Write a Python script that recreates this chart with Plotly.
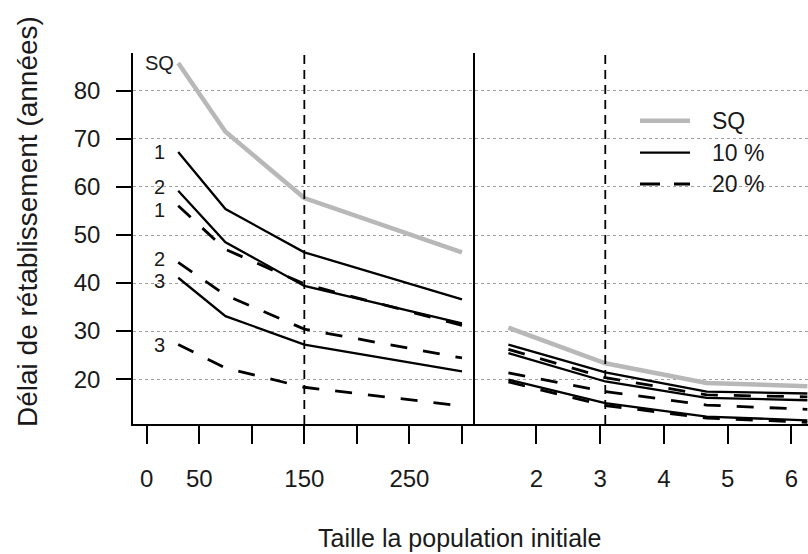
import plotly.graph_objects as go

# ---------------- data ----------------
X_LEFT = [30, 75, 150, 300]
X_RIGHT = [1.56, 3.08, 4.67, 6.25]

SQ_LEFT = [85.8, 71.5, 57.7, 46.4]
SQ_RIGHT = [30.7, 23.3, 19.2, 18.5]

P10_LEFT_1 = [67.3, 55.4, 46.4, 36.6]
P10_LEFT_2 = [59.2, 48.5, 39.4, 31.6]
P10_LEFT_3 = [41.1, 33.1, 27.2, 21.6]
P20_LEFT_1 = [56.1, 47.0, 39.8, 31.2]
P20_LEFT_2 = [44.3, 37.5, 30.4, 24.4]
P20_LEFT_3 = [27.2, 22.3, 18.3, 14.4]

P10_RIGHT_1 = [27.2, 21.4, 17.4, 17.0]
P10_RIGHT_2 = [25.4, 19.5, 16.1, 15.6]
P10_RIGHT_3 = [19.9, 15.0, 12.2, 11.4]
P20_RIGHT_1 = [26.2, 20.3, 16.7, 16.3]
P20_RIGHT_2 = [21.3, 17.4, 14.6, 13.7]
P20_RIGHT_3 = [19.4, 14.5, 11.9, 11.0]

REF_LEFT = 150
REF_RIGHT = 3.08

Y_TICKS = [20, 30, 40, 50, 60, 70, 80]
X_LEFT_TICKS = [0, 50, 100, 150, 200, 250, 300]
X_LEFT_TICKTEXT = ["0", "50", "", "150", "", "250", ""]
X_RIGHT_TICKS = [2, 3, 4, 5, 6]
X_RIGHT_TICKTEXT = ["2", "3", "4", "5", "6"]

LEGEND_LABELS = ["SQ", "10 %", "20 %"]
CURVE_LABELS = ["SQ", "1", "2", "3", "1", "2", "3"]
LABEL_X = 12

Y_TITLE = "Délai de rétablissement (années)"
X_TITLE = "Taille la population initiale"

# ---------------- styles ----------------
FONT = "Liberation Sans, Arial, sans-serif"
TXT = "#1a1a1a"
GRAY = "#b8b8b8"
SQ_STYLE = dict(color=GRAY, width=4.5)
P10_STYLE = dict(color="black", width=2.3)
P20_STYLE = dict(color="black", width=2.8, dash="17px,16px")

W, H = 808, 554
LEFT_PX, SPLIT_PX, TOP_PX, BOT_PX = 133, 474.6, 53, 424
xd_left = [LEFT_PX / W, SPLIT_PX / W]
xd_right = [SPLIT_PX / W, 1.0]
yd = [1 - BOT_PX / H, 1 - TOP_PX / H]

fig = go.Figure()

def add(x, y, style, xa, ya):
    fig.add_trace(go.Scatter(x=x, y=y, mode="lines", line=style,
                             xaxis=xa, yaxis=ya, showlegend=False,
                             hoverinfo="skip"))

# left panel
add(X_LEFT, SQ_LEFT, SQ_STYLE, "x", "y")
for s in (P20_LEFT_1, P20_LEFT_2, P20_LEFT_3):
    add(X_LEFT, s, P20_STYLE, "x", "y")
for s in (P10_LEFT_1, P10_LEFT_2, P10_LEFT_3):
    add(X_LEFT, s, P10_STYLE, "x", "y")

# right panel
add(X_RIGHT, SQ_RIGHT, SQ_STYLE, "x2", "y2")
for s in (P20_RIGHT_1, P20_RIGHT_2, P20_RIGHT_3):
    add(X_RIGHT, s, P20_STYLE, "x2", "y2")
for s in (P10_RIGHT_1, P10_RIGHT_2, P10_RIGHT_3):
    add(X_RIGHT, s, P10_STYLE, "x2", "y2")

tickfont = dict(family=FONT, size=24, color=TXT)
common_x = dict(ticks="outside", ticklen=18, tickwidth=1.5, tickcolor="black",
                showline=True, linecolor="black", linewidth=1.6,
                showgrid=False, zeroline=False, tickfont=tickfont,
                ticklabelstandoff=14, fixedrange=True)
grid = dict(showgrid=True, gridcolor="#a0a0a0", gridwidth=1, griddash="3px,3px",
            zeroline=False, fixedrange=True)

fig.update_layout(
    width=W, height=H,
    margin=dict(l=0, r=0, t=0, b=0),
    paper_bgcolor="white", plot_bgcolor="white",
    showlegend=False,
    xaxis=dict(domain=xd_left, range=[-13, 312], tickvals=X_LEFT_TICKS,
               ticktext=X_LEFT_TICKTEXT, anchor="y", **common_x),
    xaxis2=dict(domain=xd_right, range=[1.03, 6.26], tickvals=X_RIGHT_TICKS,
                ticktext=X_RIGHT_TICKTEXT, anchor="y2", **common_x),
    yaxis=dict(domain=yd, range=[10.65, 87.9], tickvals=Y_TICKS, anchor="x",
               ticks="outside", ticklen=15, tickwidth=1.5, tickcolor="black",
               showline=True, linecolor="black", linewidth=1.6,
               tickfont=tickfont, ticklabelstandoff=11, **grid),
    yaxis2=dict(domain=yd, matches="y", anchor="x2", showticklabels=False,
                ticks="", showline=True, linecolor="black", linewidth=1.6,
                **grid),
)

# reference vertical dashed lines
for xref, xv in (("x", REF_LEFT), ("x2", REF_RIGHT)):
    fig.add_shape(type="line", xref=xref, yref="paper", x0=xv, x1=xv,
                  y0=yd[0], y1=yd[1],
                  line=dict(color="black", width=1.8, dash="9px,6px"))

# curve labels (left panel), small pixel nudges to keep close pairs legible
starts = [SQ_LEFT[0], P10_LEFT_1[0], P10_LEFT_2[0], P10_LEFT_3[0],
          P20_LEFT_1[0], P20_LEFT_2[0], P20_LEFT_3[0]]
nudges = [0, 0, 4, -3, -4, 3, 0]
for lab, yv, dy in zip(CURVE_LABELS, starts, nudges):
    fig.add_annotation(x=LABEL_X, y=yv, xref="x", yref="y", text=lab,
                       showarrow=False, xanchor="center", yanchor="middle",
                       yshift=dy,
                       font=dict(family=FONT, size=20, color=TXT))

# legend (manual)
leg_styles = [SQ_STYLE, P10_STYLE, dict(color="black", width=3, dash="20px,14px")]
leg_y_px = [120.7, 152.7, 184]
for lab, st, ypx in zip(LEGEND_LABELS, leg_styles, leg_y_px):
    yy = 1 - ypx / H
    fig.add_shape(type="line", xref="paper", yref="paper",
                  x0=640 / W, x1=690 / W, y0=yy, y1=yy, line=st)
    fig.add_annotation(x=710 / W, y=yy, xref="paper", yref="paper", text=lab,
                       showarrow=False, xanchor="left", yanchor="middle",
                       font=dict(family=FONT, size=23, color=TXT))

# axis titles
fig.add_annotation(x=460 / W, y=1 - 538 / H, xref="paper", yref="paper",
                   text=X_TITLE, showarrow=False, xanchor="center",
                   yanchor="middle", font=dict(family=FONT, size=25, color=TXT))
fig.add_annotation(x=28 / W, y=1 - 222 / H, xref="paper", yref="paper",
                   text=Y_TITLE, showarrow=False, textangle=-90,
                   xanchor="center", yanchor="middle",
                   font=dict(family=FONT, size=28, color=TXT))

fig.write_html("out.html")
